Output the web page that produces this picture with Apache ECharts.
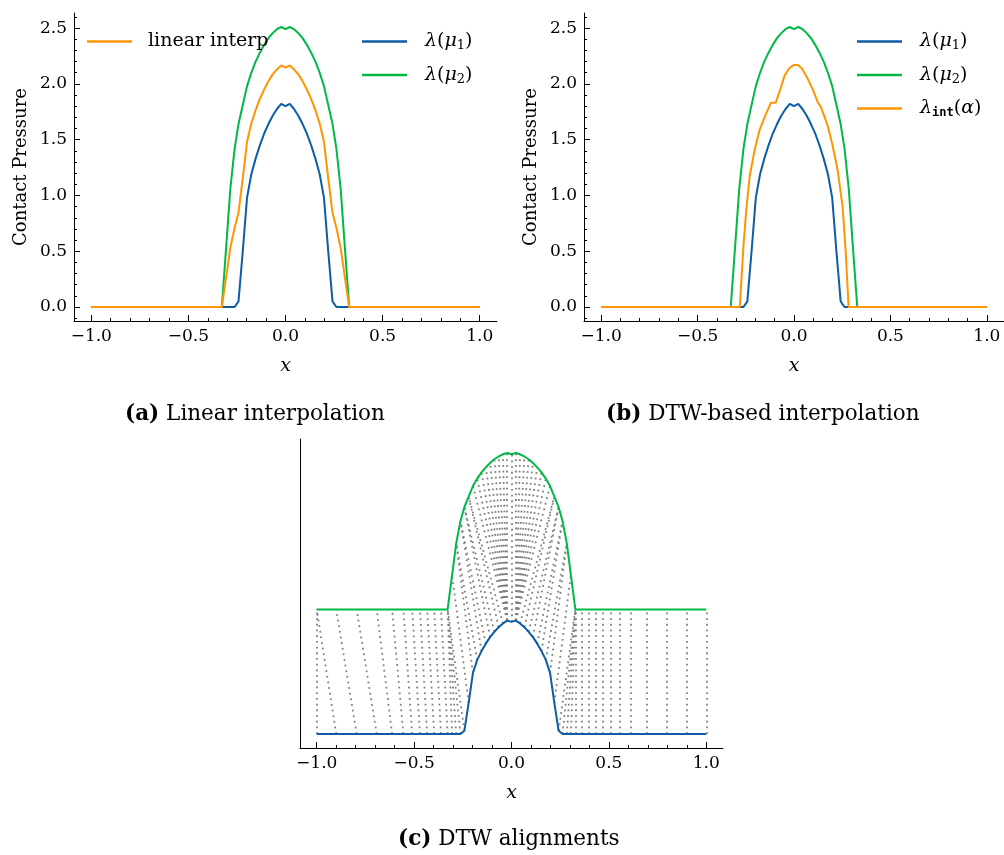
<!DOCTYPE html>
<html><head><meta charset="utf-8">
<script src="https://cdn.jsdelivr.net/npm/echarts@6/dist/echarts.min.js"></script>
<style>html,body{margin:0;padding:0;background:#fff}#main{width:1004px;height:855px}</style>
</head><body><div id="main"></div>
<script>
// ---- data ----
const xGrid = [-1.0,-0.9,-0.795,-0.692,-0.613,-0.555,-0.51,-0.47,-0.433,-0.397,-0.362,-0.328,-0.305,-0.284,-0.262,-0.242,-0.22,-0.198,-0.176,-0.154,-0.132,-0.11,-0.088,-0.066,-0.044,-0.022,0,
  0.022,0.044,0.066,0.088,0.11,0.132,0.154,0.176,0.198,0.22,0.242,0.262,0.284,0.305,0.328,0.362,0.397,0.433,0.47,0.51,0.555,0.613,0.692,0.795,0.9,1.0];
const lam1 = [0,0,0,0,0,0,0,0,0,0,0,0,0,0,0,0.05,0.5,0.98,1.19,1.33,1.45,1.555,1.64,1.715,1.775,1.82,1.80,
  1.82,1.775,1.715,1.64,1.555,1.45,1.33,1.19,0.98,0.5,0.05,0,0,0,0,0,0,0,0,0,0,0,0,0,0,0];
const lam2 = [0,0,0,0,0,0,0,0,0,0,0,0,0.55,1.06,1.42,1.64,1.81,1.98,2.10,2.20,2.28,2.35,2.41,2.455,2.49,2.51,2.49,
  2.51,2.49,2.455,2.41,2.35,2.28,2.20,2.10,1.98,1.81,1.64,1.42,1.06,0.55,0,0,0,0,0,0,0,0,0,0,0,0];
const linInterp = [0,0,0,0,0,0,0,0,0,0,0,0,0.275,0.53,0.71,0.845,1.155,1.48,1.645,1.765,1.865,1.95,2.025,2.085,2.13,2.165,2.145,
  2.165,2.13,2.085,2.025,1.95,1.865,1.765,1.645,1.48,1.155,0.845,0.71,0.53,0.275,0,0,0,0,0,0,0,0,0,0,0,0];
const xInt = [-1.0,-0.281,-0.262,-0.247,-0.23,-0.204,-0.178,-0.143,-0.12,-0.095,-0.075,-0.05,-0.025,0.0,0.02,0.04,0.07,0.1,0.122,0.14,0.155,0.174,0.2,0.226,0.252,0.268,0.283,1.0];
const lamInt = [0,0,0.55,0.88,1.17,1.41,1.59,1.74,1.83,1.83,1.93,2.07,2.14,2.17,2.17,2.14,2.05,1.94,1.84,1.79,1.72,1.63,1.45,1.23,0.9,0.5,0,0];
// DTW warping path: [index on lambda(mu1), index on lambda(mu2)]
const alignPairs = [[0,0],[1,0],[2,1],[3,2],[4,3],[5,4],[6,5],[7,6],[8,7],[9,8],[10,9],[11,10],[12,11],[13,11],[14,11],[15,11],
  [16,12],[17,13],[18,13],[19,14],[20,14],[21,15],[22,15],[23,16],[24,16],
  [25,17],[25,18],[25,19],[25,20],[25,21],[25,22],[25,23],[25,24],[25,25],[26,26],
  [27,27],[27,28],[27,29],[27,30],[27,31],[27,32],[27,33],[27,34],[27,35],
  [28,36],[29,36],[30,37],[31,37],[32,38],[33,38],[34,39],[35,39],[36,40],[37,41],[38,41],[39,41],[40,41],[41,41],
  [42,42],[43,43],[44,44],[45,45],[46,46],[47,47],[48,48],[49,49],[50,50],[51,51],[52,52]];
const offsetC = 2;
const xTicks = [-1,-0.5,0,0.5,1];
const xMinorTicks = [-0.9,-0.8,-0.7,-0.6,-0.4,-0.3,-0.2,-0.1,0.1,0.2,0.3,0.4,0.6,0.7,0.8,0.9];
const yTicks = [0,0.5,1,1.5,2,2.5];
const yMinorTicks = [-0.1,0.1,0.2,0.3,0.4,0.6,0.7,0.8,0.9,1.1,1.2,1.3,1.4,1.6,1.7,1.8,1.9,2.1,2.2,2.3,2.4,2.6];

// ---- styles ----
const C1 = '#0C5DA5', C2 = '#00B945', C3 = '#FF9500';
const SERIF = 'DejaVu Serif';
const fmt = v => (v < 0 ? '\u2212' : '') + Math.abs(v).toFixed(1);
const XR = 1.089, YMIN = -0.1255, YMAX = 2.6355;

function xMajor(gi, min, max) {
  return {type:'value', gridIndex:gi, min:min, max:max, position:'bottom',
    axisLine:{show:true, onZero:false, lineStyle:{color:'#000', width:1}},
    axisTick:{show:true, inside:true, length:6, customValues:xTicks, lineStyle:{color:'#000', width:1}},
    axisLabel:{show:true, customValues:xTicks, formatter:fmt, fontFamily:SERIF, fontSize:17, color:'#000', margin:7},
    splitLine:{show:false},
    name:'x', nameLocation:'middle', nameGap:36,
    nameTextStyle:{fontFamily:SERIF, fontStyle:'italic', fontSize:19, color:'#000'}};
}
function xMinor(gi, min, max) {
  return {type:'value', gridIndex:gi, min:min, max:max, position:'bottom',
    axisLine:{show:false, onZero:false},
    axisTick:{show:true, inside:true, length:3, customValues:xMinorTicks, lineStyle:{color:'#000', width:1}},
    axisLabel:{show:false}, splitLine:{show:false}};
}
function yMajor(gi) {
  return {type:'value', gridIndex:gi, min:YMIN, max:YMAX, position:'left',
    axisLine:{show:true, onZero:false, lineStyle:{color:'#000', width:1}},
    axisTick:{show:true, inside:true, length:6, customValues:yTicks, lineStyle:{color:'#000', width:1}},
    axisLabel:{show:true, customValues:yTicks, formatter:fmt, fontFamily:SERIF, fontSize:17, color:'#000', margin:7},
    splitLine:{show:false},
    name:'Contact Pressure', nameLocation:'middle', nameGap:44, nameRotate:90,
    nameTextStyle:{fontFamily:SERIF, fontSize:18, color:'#000'}};
}
function yMinor(gi) {
  return {type:'value', gridIndex:gi, min:YMIN, max:YMAX, position:'left',
    axisLine:{show:false, onZero:false},
    axisTick:{show:true, inside:true, length:3, customValues:yMinorTicks, lineStyle:{color:'#000', width:1}},
    axisLabel:{show:false}, splitLine:{show:false}};
}
function lineSeries(name, xs, ys, color, gi, z) {
  return {type:'line', name:name, xAxisIndex:gi, yAxisIndex:gi, data:xs.map((x,i)=>[x, ys[i]]),
    symbol:'none', showSymbol:false, lineStyle:{color:color, width:2}, itemStyle:{color:color}, z:z, silent:true};
}

const legendNames = {
  'linear interp': '{g|}{t|linear interp}',
  'λ(μ1)': '{h|}{i|λ}{t|(}{i|μ}{s|1}{t|)}',
  'λ(μ2)': '{h|}{i|λ}{t|(}{i|μ}{s|2}{t|)}',
  'λint(α)': '{h|}{i|λ}{tt|int}{t|(}{i|α}{t|)}'
};
const legendRich = {
  g:{width:11},
  h:{width:13},
  t:{fontFamily:SERIF, fontSize:19, color:'#000'},
  i:{fontFamily:SERIF, fontStyle:'italic', fontSize:19, color:'#000'},
  s:{fontFamily:SERIF, fontSize:13, color:'#000', padding:[9,0,0,0]},
  tt:{fontFamily:'DejaVu Sans Mono', fontWeight:'bold', fontSize:12, color:'#000', padding:[9,0,0,0]}
};
function legend(data, left, top) {
  return {data:data, left:left, top:top, orient:'vertical', icon:'rect', itemWidth:45, itemHeight:2.5,
    itemGap:13, selectedMode:false, padding:0, formatter:n => legendNames[n],
    textStyle:{fontFamily:SERIF, fontSize:18, color:'#000', rich:legendRich}};
}
const CAP = 21.5;
const capRich = {b:{fontFamily:SERIF, fontWeight:'bold', fontSize:CAP, color:'#000'},
                 n:{fontFamily:SERIF, fontWeight:'normal', fontSize:CAP, color:'#000'}};

const option = {
  animation:false,
  backgroundColor:'#fff',
  grid:[
    {left:74, top:13, width:423, height:308},
    {left:584, top:13, width:423, height:308},
    {left:300, top:439, width:423, height:309}
  ],
  xAxis:[xMajor(0,-XR,XR), xMajor(1,-XR,XR), xMajor(2,-1.086,1.086),
         xMinor(0,-XR,XR), xMinor(1,-XR,XR), xMinor(2,-1.086,1.086)],
  yAxis:[yMajor(0), yMajor(1),
    {type:'value', gridIndex:2, min:-0.2255, max:4.7355, position:'left',
     axisLine:{show:true, onZero:false, lineStyle:{color:'#000', width:1}},
     axisTick:{show:false}, axisLabel:{show:false}, splitLine:{show:false}},
    yMinor(0), yMinor(1)],
  legend:[
    legend(['linear interp'], 87, 32),
    legend(['λ(μ1)','λ(μ2)'], 362, 32),
    legend(['λ(μ1)','λ(μ2)','λint(α)'], 857, 32)
  ],
  title:[
    {text:'{b|(a)} {n|Linear interpolation}', left:120, top:398, textStyle:{fontFamily:SERIF, fontSize:CAP, fontWeight:'normal', rich:capRich}},
    {text:'{b|(b)} {n|DTW-based interpolation}', left:601, top:398, textStyle:{fontFamily:SERIF, fontSize:CAP, fontWeight:'normal', rich:capRich}},
    {text:'{b|(c)} {n|DTW alignments}', left:393, top:823, textStyle:{fontFamily:SERIF, fontSize:CAP, fontWeight:'normal', rich:capRich}}
  ],
  series:[
    lineSeries('λ(μ1)', xGrid, lam1, C1, 0, 2),
    lineSeries('λ(μ2)', xGrid, lam2, C2, 0, 3),
    lineSeries('linear interp', xGrid, linInterp, C3, 0, 4),
    lineSeries('λ(μ1)', xGrid, lam1, C1, 1, 2),
    lineSeries('λ(μ2)', xGrid, lam2, C2, 1, 3),
    lineSeries('λint(α)', xInt, lamInt, C3, 1, 4),
    {type:'lines', coordinateSystem:'cartesian2d', xAxisIndex:2, yAxisIndex:2, polyline:false, silent:true, z:1,
     data:alignPairs.map(([i,j]) => ({coords:[[xGrid[i], lam1[i]], [xGrid[j], lam2[j] + offsetC]]})),
     lineStyle:{color:'#808080', width:1.8, type:[1.8,3.9], cap:'butt', opacity:1}},
    lineSeries('c1', xGrid, lam1, C1, 2, 3),
    lineSeries('c2', xGrid, lam2.map(v => v + offsetC), C2, 2, 3)
  ]
};
const chart = echarts.init(document.getElementById('main'), null, {renderer:'canvas'});
chart.setOption(option);
</script></body></html>
